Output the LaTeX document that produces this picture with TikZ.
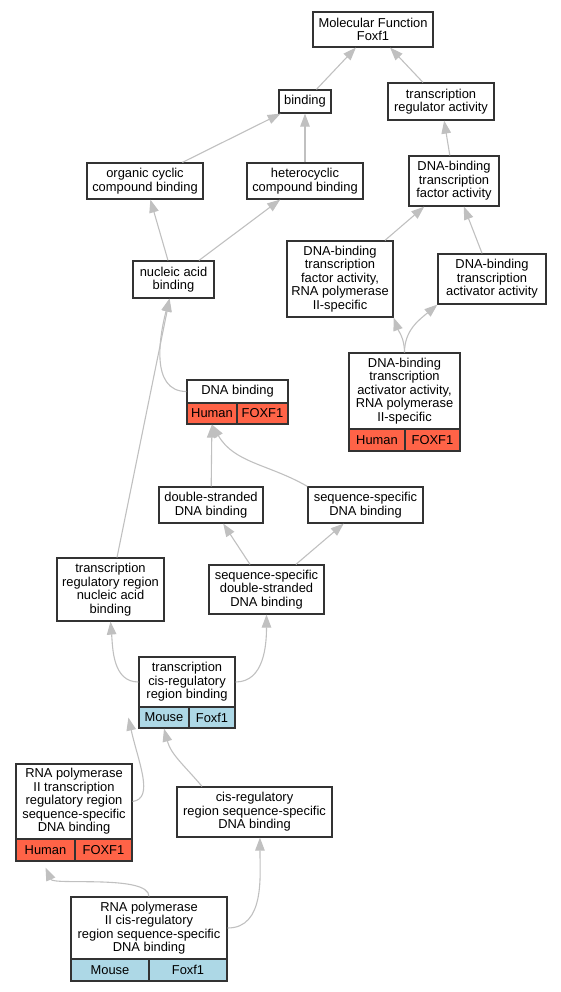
\documentclass[tikz,border=0pt]{standalone}
\usepackage{fontspec}
\setmainfont{Liberation Sans}
\usepackage{xcolor}
\usetikzlibrary{arrows.meta}
\definecolor{humanred}{RGB}{255,99,71}
\definecolor{mouseblue}{RGB}{173,216,230}
\definecolor{edgegray}{RGB}{192,192,192}
\tikzstyle{arrow} = [draw=edgegray, line width=1.1pt, -{Triangle[length=13pt,width=9.5pt]}]

\begin{document}
\begin{tikzpicture}[
				x=1pt, y=1pt,
				term/.style={draw=black!80, line width=1.2pt, fill=white, align=center, inner sep=0pt, font=\fontsize{12.9}{13.5}\selectfont},
				human/.style={term, fill=humanred},
				mouse/.style={term, fill=mouseblue}
				]
				\useasboundingbox (0,0) rectangle (561,-992);
				
				\node (mf) at (373,-29.5) [term, minimum width=120pt, minimum height=35pt] {Molecular Function\\Foxf1};
				\node (bind) at (305,-101.5) [term, minimum width=52pt, minimum height=23pt] {binding};
				\node (tra) at (441,-101.5) [term, minimum width=106pt, minimum height=37pt] {transcription\\regulator activity};
				\node (occb) at (145,-181) [term, minimum width=116pt, minimum height=36pt] {organic cyclic\\compound binding};
				\node (hccb) at (305,-181) [term, minimum width=116pt, minimum height=36pt] {heterocyclic\\compound binding};
				\node (dbtfa) at (454,-181) [term, minimum width=90pt, minimum height=50pt] {DNA-binding\\transcription\\factor activity};
				\node (nab) at (173.5,-279.5) [term, minimum width=81pt, minimum height=37pt] {nucleic acid\\binding};
				\node (dbtfaii) at (340,-279) [term, minimum width=106pt, minimum height=76pt] {DNA-binding\\transcription\\factor activity,\\RNA polymerase\\II-specific};
				\node (dbtaa) at (492,-279) [term, minimum width=108pt, minimum height=50pt] {DNA-binding\\transcription\\activator activity};
				\node (dbtaaii) at (404.5,-391) [term, minimum width=111pt, minimum height=76pt] {DNA-binding\\transcription\\activator activity,\\RNA polymerase\\II-specific};
				\node (dbtaaiisp) at (377,-440) [human, minimum width=56pt, minimum height=22pt] {Human};
				\node (dbtaaiign) at (432.5,-440) [human, minimum width=55pt, minimum height=22pt] {FOXF1};
				\node (dnab) at (237.5,-391.5) [term, minimum width=101pt, minimum height=23pt] {DNA binding};
				\node (dnabsp) at (212,-413.5) [human, minimum width=50pt, minimum height=21pt] {Human};
				\node (dnabgn) at (262.5,-413.5) [human, minimum width=51pt, minimum height=21pt] {FOXF1};
				\node (dsdb) at (211,-505) [term, minimum width=104pt, minimum height=36pt] {double-stranded\\DNA binding};
				\node (ssdb) at (365.5,-505) [term, minimum width=115pt, minimum height=36pt] {sequence-specific\\DNA binding};
				\node (ssdsdb) at (266.5,-589.5) [term, minimum width=115pt, minimum height=49pt] {sequence-specific\\double-stranded\\DNA binding};
				\node (trrnab) at (110.5,-589.5) [term, minimum width=107pt, minimum height=63pt] {transcription\\regulatory region\\nucleic acid\\binding};
				\node (tcrrb) at (187,-682) [term, minimum width=96pt, minimum height=50pt] {transcription\\cis-regulatory\\region binding};
				\node (tcrrbsp) at (164,-717.5) [mouse, minimum width=50pt, minimum height=21pt] {Mouse};
				\node (tcrrbgn) at (212,-717.5) [mouse, minimum width=46pt, minimum height=21pt] {Foxf1};
				\node (ptrr) at (74,-801.5) [term, minimum width=116pt, minimum height=75pt] {RNA polymerase\\II transcription\\regulatory region\\sequence-specific\\DNA binding};
				\node (ptrrsp) at (45.5,-850) [human, minimum width=59pt, minimum height=22pt] {Human};
				\node (ptrrgn) at (103.5,-850) [human, minimum width=57pt, minimum height=22pt] {FOXF1};
				\node (crssdb) at (254.5,-812) [term, minimum width=155pt, minimum height=50pt] {cis-regulatory\\region sequence-specific\\DNA binding};
				\node (pcr) at (149,-928) [term, minimum width=156pt, minimum height=62pt] {RNA polymerase\\II cis-regulatory\\region sequence-specific\\DNA binding};
				\node (pcrsp) at (110,-970) [mouse, minimum width=78pt, minimum height=22pt] {Mouse};
				\node (pcrgn) at (188,-970) [mouse, minimum width=78pt, minimum height=22pt] {Foxf1};
				
				\draw[arrow] (bind) -- (mf);
				\draw[arrow] (tra) -- (mf);
				\draw[arrow] (occb) -- (bind);
				\draw[arrow] (hccb) -- (bind);
				\draw[arrow] (dbtfa) -- (tra);
				\draw[arrow] (nab) -- (occb);
				\draw[arrow] (nab) -- (hccb);
				\draw[arrow] (dbtfaii) -- (dbtfa);
				\draw[arrow] (dbtaa) -- (dbtfa);
				\draw[arrow] (dbtaaii.north) to[out=90,in=-70] (dbtfaii.south east);
				\draw[arrow] (dbtaaii.north) to[out=90,in=-140] (dbtaa.south west);
				\draw[arrow] (dnab.west) to[out=180,in=-105] (nab.-102);
				\draw[arrow] (trrnab) -- (nab);
				\draw[arrow] (dsdb) -- (dnabsp);
				\draw[arrow] (ssdb.north west) to[out=150,in=-60] (dnabsp.south);
				\draw[arrow] (ssdsdb) -- (dsdb);
				\draw[arrow] (ssdsdb) -- (ssdb);
				\draw[arrow] (tcrrb.west) to[out=180,in=-85] (trrnab.south);
				\draw[arrow] (tcrrb.east) to[out=0,in=-90] (ssdsdb.south);
				\draw[arrow] (ptrr.east) .. controls +(22,3) and +(10,-45) .. ([xshift=-10pt]tcrrbsp.west);
				\draw[arrow] (crssdb.154) to[out=130,in=-75] (tcrrbsp.south);
				\draw[arrow] (pcr.north) .. controls +(0,22) and +(8,-18) .. ([yshift=-6pt]ptrrsp.south);
				\draw[arrow] (pcr.east) to[out=0,in=-90] (crssdb.-78);
			\end{tikzpicture}
\end{document}
